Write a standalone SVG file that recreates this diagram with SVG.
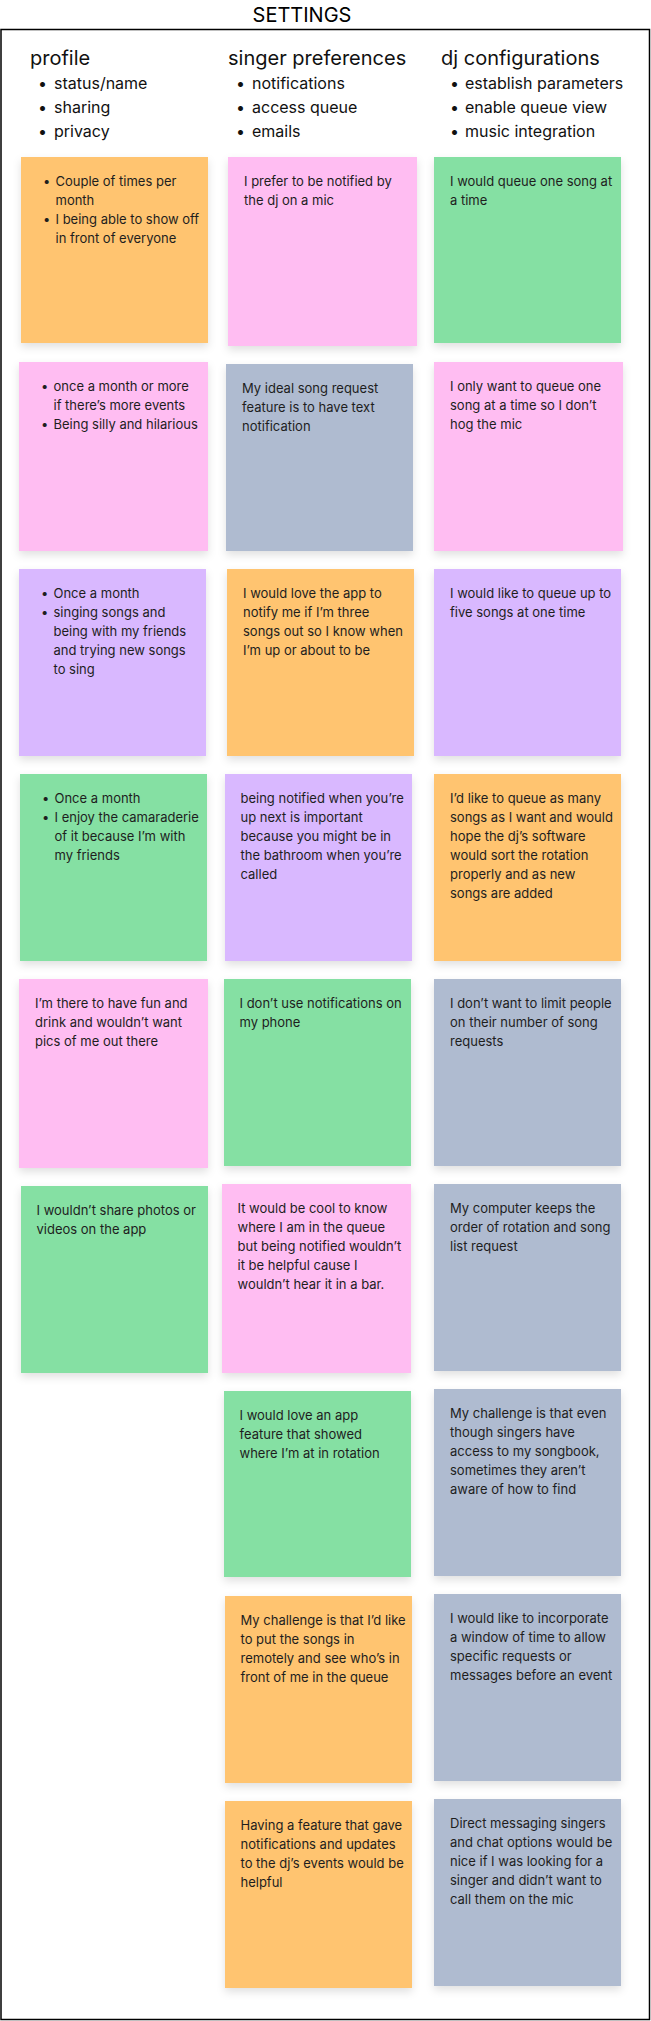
<svg xmlns="http://www.w3.org/2000/svg" width="651" height="2021" viewBox="0 0 651 2021">
<style>
text{font-family:Inter,"Liberation Sans",sans-serif;fill:#1e1e1e}
.title{font-size:20px;text-anchor:middle;fill:#000}
.h{font-size:20px;fill:#111}
.hb{font-size:16px;fill:#111}
.t{font-size:13px}
.orange{fill:#FFC470}
.pink{fill:#FFBDF2}
.green{fill:#85E0A3}
.violet{fill:#D9B8FF}
.gray{fill:#AFBBD0}
.note rect{filter:url(#sh)}
</style>
<defs>
<filter id="sh" x="-20%" y="-20%" width="140%" height="150%">
<feDropShadow dx="0" dy="4" stdDeviation="4" flood-color="#000" flood-opacity="0.12"/>
</filter>
</defs>
<rect x="0" y="0" width="651" height="2021" fill="#fff"/>
<text class="title" x="302" y="22">SETTINGS</text>
<rect x="1" y="29.5" width="648.5" height="1990" fill="none" stroke="#000" stroke-width="1.5"/>

<g id="header-profile">
<text class="h" x="30" y="65">profile</text>
<text class="hb" x="38" y="88.5">•</text><text class="hb" x="54" y="88.5">status/name</text>
<text class="hb" x="38" y="112.5">•</text><text class="hb" x="54" y="112.5">sharing</text>
<text class="hb" x="38" y="136.5">•</text><text class="hb" x="54" y="136.5">privacy</text>
</g>
<g id="header-singer">
<text class="h" x="228" y="65">singer preferences</text>
<text class="hb" x="236" y="88.5">•</text><text class="hb" x="252" y="88.5">notifications</text>
<text class="hb" x="236" y="112.5">•</text><text class="hb" x="252" y="112.5">access queue</text>
<text class="hb" x="236" y="136.5">•</text><text class="hb" x="252" y="136.5">emails</text>
</g>
<g id="header-dj">
<text class="h" x="441" y="65">dj configurations</text>
<text class="hb" x="450" y="88.5">•</text><text class="hb" x="465" y="88.5">establish parameters</text>
<text class="hb" x="450" y="112.5">•</text><text class="hb" x="465" y="112.5">enable queue view</text>
<text class="hb" x="450" y="136.5">•</text><text class="hb" x="465" y="136.5">music integration</text>
</g>

<g id="connectors"></g>

<!-- Column 1 -->
<g id="p1" class="note"><rect class="orange" x="21" y="157" width="187" height="186"/>
<text class="t" x="43" y="186">•</text>
<text class="t"><tspan x="55.5" y="186">Couple of times per</tspan><tspan x="55.5" dy="19">month</tspan></text>
<text class="t" x="43" y="224">•</text>
<text class="t"><tspan x="55.5" y="224">I being able to show off</tspan><tspan x="55.5" dy="19">in front of everyone</tspan></text>
</g>
<g id="p2" class="note"><rect class="pink" x="19" y="362" width="189" height="189"/>
<text class="t" x="41" y="391">•</text>
<text class="t"><tspan x="53.5" y="391">once a month or more</tspan><tspan x="53.5" dy="19">if there’s more events</tspan></text>
<text class="t" x="41" y="429">•</text>
<text class="t"><tspan x="53.5" y="429">Being silly and hilarious</tspan></text>
</g>
<g id="p3" class="note"><rect class="violet" x="19" y="569" width="187" height="187"/>
<text class="t" x="41" y="598">•</text>
<text class="t"><tspan x="53.5" y="598">Once a month</tspan></text>
<text class="t" x="41" y="617">•</text>
<text class="t"><tspan x="53.5" y="617">singing songs and</tspan><tspan x="53.5" dy="19">being with my friends</tspan><tspan x="53.5" dy="19">and trying new songs</tspan><tspan x="53.5" dy="19">to sing</tspan></text>
</g>
<g id="p4" class="note"><rect class="green" x="20" y="774" width="187" height="187"/>
<text class="t" x="42" y="803">•</text>
<text class="t"><tspan x="54.5" y="803">Once a month</tspan></text>
<text class="t" x="42" y="822">•</text>
<text class="t"><tspan x="54.5" y="822">I enjoy the camaraderie</tspan><tspan x="54.5" dy="19">of it because I’m with</tspan><tspan x="54.5" dy="19">my friends</tspan></text>
</g>
<g id="p5" class="note"><rect class="pink" x="19" y="979" width="189" height="189"/>
<text class="t"><tspan x="35" y="1008">I’m there to have fun and</tspan><tspan x="35" dy="19">drink and wouldn’t want</tspan><tspan x="35" dy="19">pics of me out there</tspan></text>
</g>
<g id="p6" class="note"><rect class="green" x="21" y="1186" width="187" height="187"/>
<text class="t"><tspan x="36.5" y="1215">I wouldn’t share photos or</tspan><tspan x="36.5" dy="19">videos on the app</tspan></text>
</g>

<!-- Column 2 -->
<g id="s1" class="note"><rect class="pink" x="228" y="157" width="189" height="189"/>
<text class="t"><tspan x="244" y="186">I prefer to be notified by</tspan><tspan x="244" dy="19">the dj on a mic</tspan></text>
</g>
<g id="s2" class="note"><rect class="gray" x="226" y="364" width="187" height="187"/>
<text class="t"><tspan x="242" y="393">My ideal song request</tspan><tspan x="242" dy="19">feature is to have text</tspan><tspan x="242" dy="19">notification</tspan></text>
</g>
<g id="s3" class="note"><rect class="orange" x="227" y="569" width="187" height="187"/>
<text class="t"><tspan x="243" y="598">I would love the app to</tspan><tspan x="243" dy="19">notify me if I’m three</tspan><tspan x="243" dy="19">songs out so I know when</tspan><tspan x="243" dy="19">I’m up or about to be</tspan></text>
</g>
<g id="s4" class="note"><rect class="violet" x="225" y="774" width="187" height="187"/>
<text class="t"><tspan x="240.5" y="803">being notified when you’re</tspan><tspan x="240.5" dy="19">up next is important</tspan><tspan x="240.5" dy="19">because you might be in</tspan><tspan x="240.5" dy="19">the bathroom when you’re</tspan><tspan x="240.5" dy="19">called</tspan></text>
</g>
<g id="s5" class="note"><rect class="green" x="224" y="979" width="187" height="187"/>
<text class="t"><tspan x="239.5" y="1008">I don’t use notifications on</tspan><tspan x="239.5" dy="19">my phone</tspan></text>
</g>
<g id="s6" class="note"><rect class="pink" x="222" y="1184" width="189" height="189"/>
<text class="t"><tspan x="237.5" y="1213">It would be cool to know</tspan><tspan x="237.5" dy="19">where I am in the queue</tspan><tspan x="237.5" dy="19">but being notified wouldn’t</tspan><tspan x="237.5" dy="19">it be helpful cause I</tspan><tspan x="237.5" dy="19">wouldn’t hear it in a bar.</tspan></text>
</g>
<g id="s7" class="note"><rect class="green" x="224" y="1391" width="187" height="186"/>
<text class="t"><tspan x="239.5" y="1420">I would love an app</tspan><tspan x="239.5" dy="19">feature that showed</tspan><tspan x="239.5" dy="19">where I’m at in rotation</tspan></text>
</g>
<g id="s8" class="note"><rect class="orange" x="225" y="1596" width="187" height="187"/>
<text class="t"><tspan x="240.5" y="1625">My challenge is that I’d like</tspan><tspan x="240.5" dy="19">to put the songs in</tspan><tspan x="240.5" dy="19">remotely and see who’s in</tspan><tspan x="240.5" dy="19">front of me in the queue</tspan></text>
</g>
<g id="s9" class="note"><rect class="orange" x="225" y="1801" width="187" height="187"/>
<text class="t"><tspan x="240.5" y="1830">Having a feature that gave</tspan><tspan x="240.5" dy="19">notifications and updates</tspan><tspan x="240.5" dy="19">to the dj’s events would be</tspan><tspan x="240.5" dy="19">helpful</tspan></text>
</g>

<!-- Column 3 -->
<g id="d1" class="note"><rect class="green" x="434" y="157" width="187" height="186"/>
<text class="t"><tspan x="450" y="186">I would queue one song at</tspan><tspan x="450" dy="19">a time</tspan></text>
</g>
<g id="d2" class="note"><rect class="pink" x="434" y="362" width="189" height="189"/>
<text class="t"><tspan x="450" y="391">I only want to queue one</tspan><tspan x="450" dy="19">song at a time so I don’t</tspan><tspan x="450" dy="19">hog the mic</tspan></text>
</g>
<g id="d3" class="note"><rect class="violet" x="434" y="569" width="187" height="187"/>
<text class="t"><tspan x="450" y="598">I would like to queue up to</tspan><tspan x="450" dy="19">five songs at one time</tspan></text>
</g>
<g id="d4" class="note"><rect class="orange" x="434" y="774" width="187" height="187"/>
<text class="t"><tspan x="450" y="803">I’d like to queue as many</tspan><tspan x="450" dy="19">songs as I want and would</tspan><tspan x="450" dy="19">hope the dj’s software</tspan><tspan x="450" dy="19">would sort the rotation</tspan><tspan x="450" dy="19">properly and as new</tspan><tspan x="450" dy="19">songs are added</tspan></text>
</g>
<g id="d5" class="note"><rect class="gray" x="434" y="979" width="187" height="187"/>
<text class="t"><tspan x="450" y="1008">I don’t want to limit people</tspan><tspan x="450" dy="19">on their number of song</tspan><tspan x="450" dy="19">requests</tspan></text>
</g>
<g id="d6" class="note"><rect class="gray" x="434" y="1184" width="187" height="187"/>
<text class="t"><tspan x="450" y="1213">My computer keeps the</tspan><tspan x="450" dy="19">order of rotation and song</tspan><tspan x="450" dy="19">list request</tspan></text>
</g>
<g id="d7" class="note"><rect class="gray" x="434" y="1389" width="187" height="187"/>
<text class="t"><tspan x="450" y="1418">My challenge is that even</tspan><tspan x="450" dy="19">though singers have</tspan><tspan x="450" dy="19">access to my songbook,</tspan><tspan x="450" dy="19">sometimes they aren’t</tspan><tspan x="450" dy="19">aware of how to find</tspan></text>
</g>
<g id="d8" class="note"><rect class="gray" x="434" y="1594" width="187" height="187"/>
<text class="t"><tspan x="450" y="1623">I would like to incorporate</tspan><tspan x="450" dy="19">a window of time to allow</tspan><tspan x="450" dy="19">specific requests or</tspan><tspan x="450" dy="19">messages before an event</tspan></text>
</g>
<g id="d9" class="note"><rect class="gray" x="434" y="1799" width="187" height="187"/>
<text class="t"><tspan x="450" y="1828">Direct messaging singers</tspan><tspan x="450" dy="19">and chat options would be</tspan><tspan x="450" dy="19">nice if I was looking for a</tspan><tspan x="450" dy="19">singer and didn’t want to</tspan><tspan x="450" dy="19">call them on the mic</tspan></text>
</g>
</svg>
